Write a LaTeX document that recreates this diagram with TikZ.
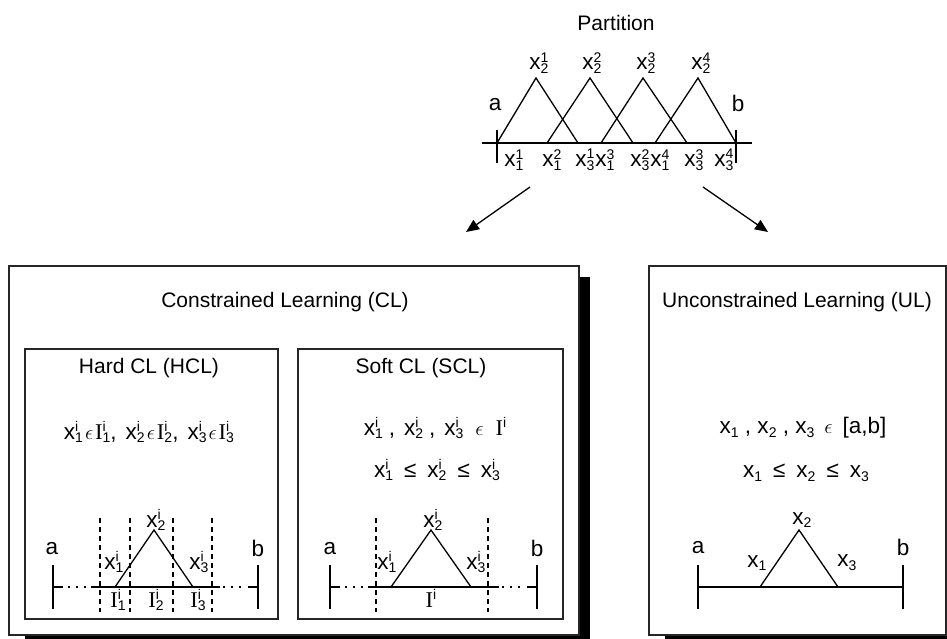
\documentclass[tikz,border=0pt]{standalone}
\usepackage{fontspec}
\setmainfont{Liberation Sans}
\newfontfamily\serifI{Liberation Serif}
\usetikzlibrary{arrows.meta}
\newcommand\supsub[2]{{\fontsize{14}{14}\selectfont\ooalign{\raisebox{7.8pt}{#1}\cr\raisebox{-3.8pt}{#2}\cr}}}
\newcommand\XV[2]{x\supsub{#1}{#2}}
\newcommand\IV[2]{{\serifI I}\supsub{#1}{#2}}
\newcommand\EPS{$\epsilon$}
\newcommand\HS[1]{\hspace{#1pt}}
\tikzset{
  lbl/.style={font=\fontsize{21}{24}\selectfont, inner sep=0pt},
  sym/.style={font=\fontsize{22.5}{26}\selectfont, inner sep=0pt},
  boxline/.style={line width=1.5pt, draw=black!85, fill=white},
  shadowfill/.style={fill=black},
  thin/.style={line width=1.3pt},
  tick/.style={line width=1.6pt},
  dashv/.style={line width=1.3pt, dash pattern=on 5pt off 4pt},
  dotted3/.style={line width=1.6pt, dash pattern=on 2pt off 6pt},
  arr/.style={line width=1.3pt, -{Triangle[length=13pt,width=11pt]}}
}
\newcommand\dotaxis[3]{%
  \draw[thin] (#1,#3) -- ({#1+10},#3);
  \draw[dotted3] ({#1+15},#3) -- ({#1+37},#3);
  \draw[thin] ({#1+38},#3) -- ({#2-38},#3);
  \draw[dotted3] ({#2-35},#3) -- ({#2-13},#3);
  \draw[thin] ({#2-10},#3) -- (#2,#3);
  \draw[tick] (#1,565) -- (#1,609);
  \draw[tick] (#2,565) -- (#2,609);
}
\begin{document}
\begin{tikzpicture}[x=1pt,y=-1pt]
\useasboundingbox (0,0) rectangle (947,639);
% ---------- Partition ----------
\node[lbl] (ptitle) at (616,23) {Partition};
\draw[thin] (482,143) -- (752,143);
\draw[tick] (497,130) -- (497,163);
\draw[tick] (736,130) -- (736,163);
\draw[thin] (497,143) -- (536,78) -- (578,143);
\draw[thin] (547,143) -- (590,78) -- (633,143);
\draw[thin] (601,143) -- (643,78) -- (687,143);
\draw[thin] (655,143) -- (698,78) -- (736,143);
\node[sym] (pa) at (495,105) {a};
\node[sym] (pb) at (738,103) {b};
\node[sym] (t1) at (539,63) {\XV{1}{2}};
\node[sym] (t2) at (592,63) {\XV{2}{2}};
\node[sym] (t3) at (646,63) {\XV{3}{2}};
\node[sym] (t4) at (701,63) {\XV{4}{2}};
\node[sym] (b1) at (514,160) {\XV{1}{1}};
\node[sym] (b2) at (552,160) {\XV{2}{1}};
\node[sym] (b3) at (585,160) {\XV{1}{3}};
\node[sym] (b4) at (605,160) {\XV{3}{1}};
\node[sym] (b5) at (640,160) {\XV{2}{3}};
\node[sym] (b6) at (660,160) {\XV{4}{1}};
\node[sym] (b7) at (694,160) {\XV{3}{3}};
\node[sym] (b8) at (724,160) {\XV{4}{3}};
% ---------- arrows ----------
\coordinate (la) at (530,187);
\coordinate (lb) at (466,232);
\coordinate (ra) at (703,187);
\coordinate (rb) at (768,232);
\draw[arr] (la) -- (lb);
\draw[arr] (ra) -- (rb);
% ---------- CL box ----------
\fill[shadowfill] (25,277) rectangle (590,660);
\draw[boxline] (9,266) rectangle (579,635);
\node[lbl] (cl) at (285,302) {Constrained Learning (CL)};
% HCL
\draw[boxline] (25,349) rectangle (278,619);
\node[lbl] (hcl) at (149,368) {Hard CL (HCL)};
\node[sym] (hclf) at (149,432) {\XV{i}{1}\HS{2}\EPS\HS{2}\IV{i}{1},\HS{9}\XV{i}{2}\HS{2}\EPS\HS{2}\IV{i}{2},\HS{9}\XV{i}{3}\HS{2}\EPS\HS{2}\IV{i}{3}};
\dotaxis{53}{258}{587}
\foreach \xx in {100,130,173,212} \draw[dashv] (\xx,518) -- (\xx,612);
\draw[thin] (115,587) -- (154,530) -- (193,587);
\node[sym] (ha) at (52,549) {a};
\node[sym] (hb) at (258,548) {b};
\node[sym] (hx2) at (156,520) {\XV{i}{2}};
\node[sym] (hx1) at (114,562) {\XV{i}{1}};
\node[sym] (hx3) at (199,562) {\XV{i}{3}};
\node[sym] (hi1) at (118,600) {\IV{i}{1}};
\node[sym] (hi2) at (156,600) {\IV{i}{2}};
\node[sym] (hi3) at (198,600) {\IV{i}{3}};
% SCL
\draw[boxline] (298,349) rectangle (563,619);
\node[lbl] (scl) at (421,368) {Soft CL (SCL)};
\node[sym] (sclf1) at (435,428) {\XV{i}{1}\HS{6},\HS{9}\XV{i}{2}\HS{6},\HS{9}\XV{i}{3}\HS{12}\EPS\HS{12}\IV{i}{}};
\node[sym] (sclf2) at (437,470) {\XV{i}{1}\HS{11}≤\HS{11}\XV{i}{2}\HS{11}≤\HS{11}\XV{i}{3}};
\dotaxis{330}{537}{587}
\foreach \xx in {376,488} \draw[dashv] (\xx,518) -- (\xx,612);
\draw[thin] (391,587) -- (431,530) -- (471,587);
\node[sym] (sa) at (330,549) {a};
\node[sym] (sb) at (537,548) {b};
\node[sym] (sx2) at (433,520) {\XV{i}{2}};
\node[sym] (sx1) at (387,562) {\XV{i}{1}};
\node[sym] (sx3) at (476,562) {\XV{i}{3}};
\node[sym] (si) at (431,600) {\IV{i}{}};
% ---------- UL box ----------
\fill[shadowfill] (665,277) rectangle (960,660);
\draw[boxline] (649,266) rectangle (946,635);
\node[lbl] (ul) at (797,302) {Unconstrained Learning (UL)};
\node[sym] (ulf1) at (803,428) {\XV{}{1} , \XV{}{2} , \XV{}{3} \,\EPS\, [a,b]};
\node[sym] (ulf2) at (806,473) {\XV{}{1}\HS{11}≤\HS{11}\XV{}{2}\HS{11}≤\HS{11}\XV{}{3}};
\draw[thin] (698,587) -- (903,587);
\draw[tick] (698,565) -- (698,609);
\draw[tick] (903,565) -- (903,609);
\draw[thin] (760,587) -- (799,530) -- (838,587);
\node[sym] (ua) at (698,548) {a};
\node[sym] (ub) at (903,547) {b};
\node[sym] (ux2) at (802,520) {\XV{}{2}};
\node[sym] (ux1) at (757,563) {\XV{}{1}};
\node[sym] (ux3) at (847,563) {\XV{}{3}};
\end{tikzpicture}
\end{document}
